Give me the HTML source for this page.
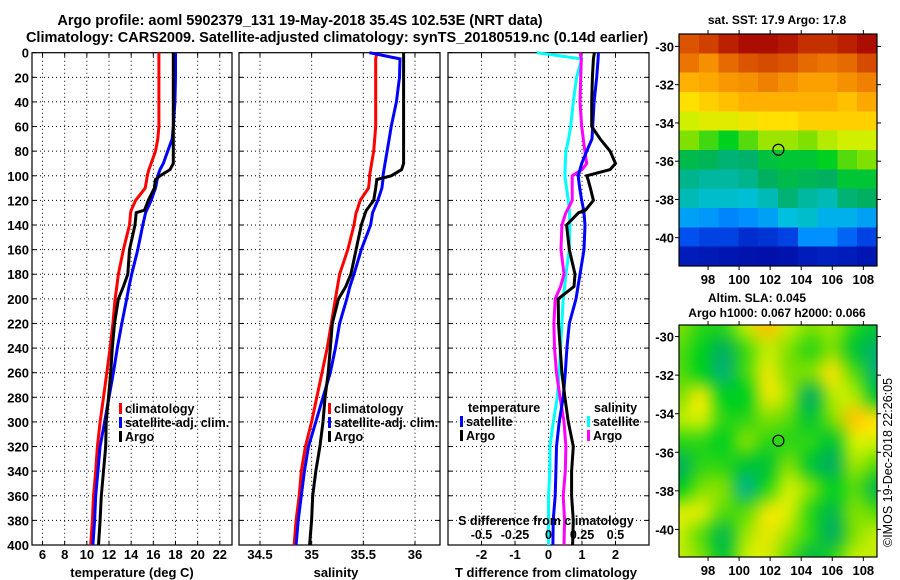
<!DOCTYPE html>
<html><head><meta charset="utf-8"><style>
html,body{margin:0;padding:0;background:#fff;}
svg{display:block;font-family:"Liberation Sans",Arial,sans-serif;font-weight:bold;}
</style></head><body>
<svg id="c" width="900" height="580" viewBox="0 0 900 580">
<text x="300" y="25" font-size="14.5" text-anchor="middle">Argo profile: aoml 5902379_131 19-May-2018 35.4S 102.53E (NRT data)</text>
<text x="337" y="42" font-size="14.5" text-anchor="middle">Climatology: CARS2009. Satellite-adjusted climatology: synTS_20180519.nc (0.14d earlier)</text>
<text x="777" y="24" font-size="12" text-anchor="middle">sat. SST: 17.9 Argo: 17.8</text>
<text x="757" y="302" font-size="12" text-anchor="middle">Altim. SLA: 0.045</text>
<text x="777" y="317" font-size="12" text-anchor="middle">Argo h1000: 0.067 h2000: 0.066</text>
<text transform="translate(892,547) rotate(-90)" font-size="12.5" font-weight="normal">©IMOS 19-Dec-2018 22:26:05</text>
</svg>
<canvas id="slaSmall" width="10" height="11" style="display:none"></canvas>
<script>
// ---------- data ----------
const depths = [0,5,20,40,60,70,80,90,95,100,103,110,120,128,130,140,160,180,190,200,220,240,260,280,300,320,340,360,380,400];
const tempClim = [16.5,16.5,16.5,16.5,16.5,16.4,16.2,15.8,15.6,15.45,15.4,15.27,14.4,14.0,13.95,13.85,13.3,12.85,12.7,12.55,12.35,12.1,11.8,11.5,11.2,10.95,10.8,10.6,10.5,10.35];
const tempSat = [18.0,18.0,18.0,17.95,17.8,17.7,17.3,16.9,16.6,16.4,16.35,16.2,15.8,15.4,15.3,15.05,14.6,14.05,13.8,13.6,13.15,12.75,12.4,12.0,11.6,11.2,11.0,10.8,10.7,10.55];
const tempArgo = [17.8,17.8,17.8,17.8,17.8,17.8,17.8,17.8,17.5,16.6,16.2,16.1,15.55,15.2,14.45,14.35,13.85,13.7,13.3,12.85,12.5,12.3,12.15,11.95,11.75,11.7,11.5,11.3,11.2,11.05];
const salClim = [35.63,35.62,35.62,35.62,35.62,35.61,35.6,35.58,35.57,35.56,35.56,35.55,35.47,35.44,35.43,35.41,35.35,35.27,35.25,35.23,35.19,35.15,35.1,35.05,35.0,34.94,34.9,34.88,34.85,34.83];
const salSat = [35.56,35.855,35.85,35.82,35.77,35.75,35.73,35.71,35.7,35.69,35.69,35.68,35.64,35.6,35.59,35.57,35.48,35.41,35.37,35.34,35.27,35.23,35.18,35.11,35.04,34.97,34.93,34.9,34.87,34.85];
const salArgo = [35.89,35.89,35.89,35.89,35.89,35.89,35.89,35.89,35.87,35.77,35.63,35.62,35.6,35.53,35.52,35.48,35.43,35.38,35.33,35.26,35.2,35.18,35.16,35.13,35.11,35.08,35.04,35.01,35.0,34.98];
const tDiffSat = [1.49,1.48,1.44,1.36,1.32,1.3,1.14,0.99,0.94,0.89,0.9,0.93,0.99,1.05,1.06,1.09,1.06,0.94,0.88,0.82,0.62,0.55,0.5,0.44,0.32,0.24,0.22,0.2,0.14,0.13];
const tDiffArgo = [1.37,1.34,1.31,1.29,1.29,1.54,1.84,2.0,1.84,1.14,1.18,1.25,1.34,1.1,0.9,0.54,0.62,0.79,0.76,0.29,0.3,0.35,0.4,0.49,0.59,0.74,0.69,0.69,0.74,0.72];
const sDiffSat = [-0.088,0.248,0.21,0.185,0.166,0.15,0.13,0.125,0.124,0.123,0.125,0.135,0.148,0.155,0.156,0.16,0.155,0.13,0.12,0.11,0.1,0.09,0.08,0.066,0.036,0.011,0.01,0.0,0.0,0.0];
const sDiffArgo = [0.235,0.245,0.24,0.235,0.248,0.26,0.272,0.285,0.25,0.177,0.177,0.177,0.177,0.14,0.13,0.10,0.093,0.116,0.09,0.05,0.04,0.045,0.06,0.086,0.116,0.13,0.125,0.11,0.12,0.116];
const depthTicks = [0,20,40,60,80,100,120,140,160,180,200,220,240,260,280,300,320,340,360,380,400];
const tempTicks = [6,8,10,12,14,16,18,20,22];
const salTicks = [34.5,35,35.5,36];
const tDiffTicks = [-2,-1,0,1,2];
const sDiffTicks = [-0.5,-0.25,0,0.25,0.5];
const sDiffTickLabels = ["-0.5","-0.25","0","0.25","0.5"];
const mapLonTicks = [98,100,102,104,106,108];
const mapLatTicks = [-30,-32,-34,-36,-38,-40];
const argoLon = 102.53, argoLat = -35.4;
const sstGrid = [
[0.86,0.88,0.92,0.95,0.95,0.93,0.9,0.9,0.92,0.95],
[0.83,0.8,0.84,0.86,0.87,0.86,0.84,0.83,0.84,0.87],
[0.76,0.77,0.79,0.8,0.82,0.8,0.78,0.78,0.8,0.82],
[0.7,0.72,0.74,0.76,0.76,0.76,0.76,0.76,0.74,0.77],
[0.64,0.66,0.66,0.68,0.7,0.7,0.72,0.72,0.72,0.72],
[0.58,0.55,0.52,0.56,0.6,0.6,0.58,0.62,0.64,0.64],
[0.48,0.47,0.44,0.45,0.49,0.5,0.5,0.52,0.56,0.58],
[0.42,0.4,0.4,0.42,0.46,0.48,0.47,0.46,0.5,0.5],
[0.38,0.36,0.36,0.35,0.38,0.44,0.4,0.38,0.44,0.46],
[0.3,0.29,0.27,0.28,0.3,0.34,0.36,0.32,0.32,0.3],
[0.22,0.2,0.2,0.17,0.18,0.2,0.28,0.28,0.24,0.2],
[0.14,0.13,0.12,0.11,0.1,0.11,0.14,0.15,0.14,0.12]];
const slaGrid = [
[0.58,0.54,0.54,0.63,0.74,0.63,0.58,0.6,0.54,0.5],
[0.56,0.52,0.46,0.55,0.63,0.58,0.54,0.58,0.5,0.45],
[0.56,0.52,0.44,0.55,0.67,0.58,0.58,0.69,0.56,0.44],
[0.58,0.67,0.52,0.52,0.67,0.6,0.46,0.62,0.62,0.5],
[0.62,0.64,0.54,0.54,0.58,0.56,0.5,0.58,0.73,0.69],
[0.54,0.54,0.52,0.58,0.54,0.54,0.54,0.5,0.64,0.64],
[0.46,0.54,0.54,0.5,0.5,0.58,0.5,0.46,0.6,0.56],
[0.52,0.58,0.58,0.42,0.54,0.64,0.58,0.52,0.56,0.48],
[0.65,0.65,0.56,0.56,0.67,0.65,0.54,0.48,0.58,0.56],
[0.63,0.56,0.48,0.6,0.67,0.6,0.54,0.46,0.58,0.63],
[0.63,0.58,0.5,0.63,0.65,0.56,0.48,0.54,0.63,0.63]];
const cmapPos = [0,0.05,0.15,0.22,0.28,0.34,0.40,0.46,0.52,0.58,0.64,0.70,0.76,0.82,0.88,0.94,1];
const cmapCol = ["#000070","#000090","#0020c0","#0050f0","#0090ff","#00c0e0","#00b8a0","#00b060","#00d020","#80e000","#d0f000","#ffe000","#ffb000","#f08000","#d04000","#b01000","#900000"];

// ---------- helpers ----------
const NS="http://www.w3.org/2000/svg";
const svg=document.getElementById('c');
function el(tag,attrs,parent){const e=document.createElementNS(NS,tag);for(const k in attrs)e.setAttribute(k,attrs[k]);(parent||svg).appendChild(e);return e;}
function txt(x,y,s,size,anchor,parent){const t=el('text',{x:x,y:y,'font-size':size,'text-anchor':anchor||'middle'},parent);t.textContent=s;return t;}
function hex(c){return [parseInt(c.substr(1,2),16),parseInt(c.substr(3,2),16),parseInt(c.substr(5,2),16)];}
function cmap(v){v=Math.max(0,Math.min(1,v));for(let i=1;i<cmapPos.length;i++){if(v<=cmapPos[i]){const f=(v-cmapPos[i-1])/(cmapPos[i]-cmapPos[i-1]);const a=hex(cmapCol[i-1]),b=hex(cmapCol[i]);return 'rgb('+a.map((q,j)=>Math.round(q+(b[j]-q)*f)).join(',')+')';}}return cmapCol[cmapCol.length-1];}

const PT=52.7, PB=545;
function yD(d){return PT+(PB-PT)*d/400;}

function panel(name,x0,x1,xmin,xmax,xticks,xlabels,showDepth,gridX){
  const g=el('g',{});
  
  
  const xs=v=>x0+(x1-x0)*(v-xmin)/(xmax-xmin);
  const grid=el('g',{stroke:'#000','stroke-width':1,'stroke-dasharray':'1,3'},g);
  
  
  depthTicks.forEach(d=>{if(d>0&&d<400)el('line',{x1:x0,x2:x1,y1:yD(d),y2:yD(d)},grid);});
  gridX.forEach(v=>el('line',{x1:xs(v),x2:xs(v),y1:PT,y2:PB},grid));
  depthTicks.forEach(d=>{el('line',{x1:x0,x2:x0+4,y1:yD(d),y2:yD(d),stroke:'#000'},g);el('line',{x1:x1,x2:x1-4,y1:yD(d),y2:yD(d),stroke:'#000'},g);});
  xticks.forEach(v=>{el('line',{x1:xs(v),x2:xs(v),y1:PB,y2:PB-4,stroke:'#000'},g);el('line',{x1:xs(v),x2:xs(v),y1:PT,y2:PT+4,stroke:'#000'},g);});
  const fr=el('rect',{x:x0,y:PT,width:x1-x0,height:PB-PT,fill:'none',stroke:'#000','stroke-width':1.2},g);
  
  
  if(xlabels){xticks.forEach((v,i)=>{const t=txt(xs(v),559,xlabels[i],13,'middle',g);});}
  if(showDepth){depthTicks.forEach(d=>{const t=txt(x0-3,yD(d)+5,String(d),13,'end',g);});}
  return {g,xs};
}
function series(p,vals,color,nm){
  const pts=vals.map((v,i)=>p.xs(v).toFixed(1)+','+yD(depths[i]).toFixed(1)).join(' ');
  const l=el('polyline',{points:pts,fill:'none',stroke:color,'stroke-width':3,'stroke-linejoin':'miter'},p.g);
  
  
}
function legendEntry(g,x,y,color,label,nm){
  const r=el('rect',{x:x,y:y-10,width:3,height:11,fill:color},g);
  
  
  const t=txt(x+6,y,label,12.5,'start',g);
  
  
}

const p1=panel('temperature-panel',32,232,5.05,23.1,tempTicks,tempTicks.map(String),true,tempTicks);
series(p1,tempClim,'#ff0000','temp-climatology-line');
series(p1,tempSat,'#0000ff','temp-satellite-line');
series(p1,tempArgo,'#000000','temp-argo-line');
legendEntry(p1.g,119,413,'#ff0000','climatology','legend-climatology');
legendEntry(p1.g,119,427,'#0000ff','satellite-adj. clim.','legend-satellite');
legendEntry(p1.g,119,441,'#000000','Argo','legend-argo');
let t=txt(132,577,'temperature (deg C)',13,'middle');



const p2=panel('salinity-panel',239,440,34.297,36.242,salTicks,salTicks.map(String),false,salTicks);
series(p2,salClim,'#ff0000','sal-climatology-line');
series(p2,salSat,'#0000ff','sal-satellite-line');
series(p2,salArgo,'#000000','sal-argo-line');
legendEntry(p2.g,328,413,'#ff0000','climatology','legend-sal-climatology');
legendEntry(p2.g,328,427,'#0000ff','satellite-adj. clim.','legend-sal-satellite');
legendEntry(p2.g,328,441,'#000000','Argo','legend-sal-argo');
t=txt(336,577,'salinity',13,'middle');



const p3=panel('difference-panel',448,649,-3,3,tDiffTicks,tDiffTicks.map(String),false,tDiffTicks);
series(p3,sDiffSat.map(v=>v*4),'#00ffff','sdiff-satellite-line');
series(p3,sDiffArgo.map(v=>v*4),'#ff00ff','sdiff-argo-line');
series(p3,tDiffSat,'#0000ff','tdiff-satellite-line');
series(p3,tDiffArgo,'#000000','tdiff-argo-line');
t=txt(468,412,'temperature',12.5,'start',p3.g);


legendEntry(p3.g,460,426,'#0000ff','satellite','legend-tdiff-satellite');
legendEntry(p3.g,460,440,'#000000','Argo','legend-tdiff-argo');
t=txt(594,412,'salinity',12.5,'start',p3.g);


legendEntry(p3.g,587,426,'#00ffff','satellite','legend-sdiff-satellite');
legendEntry(p3.g,587,440,'#ff00ff','Argo','legend-sdiff-argo');
t=txt(546,525,'S difference from climatology',12.5,'middle',p3.g);


sDiffTicks.forEach((v,i)=>{const tt=txt(p3.xs(v*4),539,sDiffTickLabels[i],12.5,'middle',p3.g);});
t=txt(546,577,'T difference from climatology',13,'middle');



// ---------- maps ----------
const MX0=679,MX1=877,LON0=96.13,LON1=108.88;
function mx(lon){return MX0+(MX1-MX0)*(lon-LON0)/(LON1-LON0);}
function mapAxes(name,top,bot,latTop,latBot){
  const my=lat=>top+(bot-top)*(lat-latTop)/(latBot-latTop);
  const g=el('g',{});
  
  
  el('rect',{x:MX0,y:top,width:MX1-MX0,height:bot-top,fill:'none',stroke:'#000','stroke-width':1.2},g);
  mapLonTicks.forEach(l=>{el('line',{x1:mx(l),x2:mx(l),y1:top,y2:top-4,stroke:'#000'},g);el('line',{x1:mx(l),x2:mx(l),y1:bot,y2:bot+4,stroke:'#000'},g);
    const tt=txt(mx(l),bot+18,String(l),13,'middle',g);});
  mapLatTicks.forEach(l=>{el('line',{x1:MX0,x2:MX0-4,y1:my(l),y2:my(l),stroke:'#000'},g);el('line',{x1:MX1,x2:MX1+4,y1:my(l),y2:my(l),stroke:'#000'},g);
    const tt=txt(MX0-5,my(l)+5,String(l),13,'end',g);});
  const c=el('ellipse',{cx:mx(argoLon),cy:my(argoLat),rx:5.5,ry:5.5,fill:'none',stroke:'#000','stroke-width':1.2},g);
  
  
  return my;
}
const sstTop=34,sstBot=266;
const sstG=el('g',{'shape-rendering':'crispEdges'});


const nR=sstGrid.length,nC=sstGrid[0].length;
sstGrid.forEach((row,r)=>row.forEach((v,c)=>{
  const x0=MX0+(MX1-MX0)*c/nC,x1=MX0+(MX1-MX0)*(c+1)/nC,y0=sstTop+(sstBot-sstTop)*r/nR,y1=sstTop+(sstBot-sstTop)*(r+1)/nR;
  const cell=el('rect',{x:x0.toFixed(1),y:y0.toFixed(1),width:(x1-x0+0.6).toFixed(1),height:(y1-y0+0.6).toFixed(1),fill:cmap(v)},sstG);
  
  
}));
mapAxes('sst-map',sstTop,sstBot,-29.35,-41.48);

const slaTop=325,slaBot=557;
const sc=document.getElementById('slaSmall');
const sctx=sc.getContext('2d');
slaGrid.forEach((row,r)=>row.forEach((v,c)=>{sctx.fillStyle=cmap(v);sctx.fillRect(c,r,1,1);}));
const big=document.createElement('canvas');big.width=(MX1-MX0)*2;big.height=(slaBot-slaTop)*2;
const bctx=big.getContext('2d');bctx.imageSmoothingEnabled=true;bctx.imageSmoothingQuality='high';
bctx.drawImage(sc,-0.5*big.width/10,-0.5*big.height/11,big.width*1.1,big.height*1.1);
const img=el('image',{x:MX0,y:slaTop,width:MX1-MX0,height:slaBot-slaTop,preserveAspectRatio:'none',href:big.toDataURL()});


mapAxes('sla-map',slaTop,slaBot,-29.4,-41.43);
</script>
</body></html>
